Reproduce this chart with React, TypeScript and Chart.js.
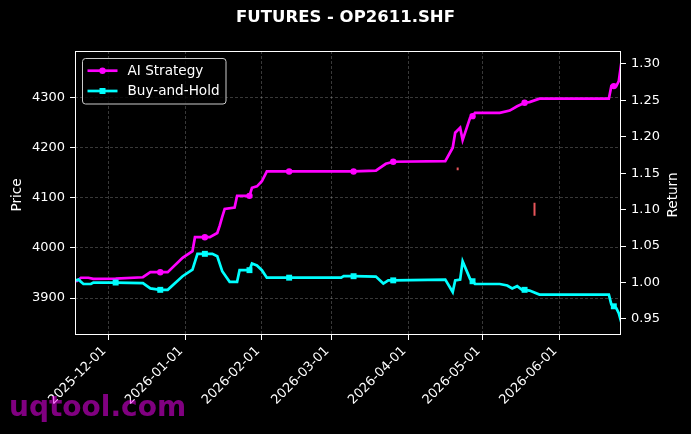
import React, { useEffect, useRef } from "react";
import { Chart, registerables } from "chart.js";

Chart.register(...registerables);

const TITLE = "FUTURES - OP2611.SHF";
const FONT = "'DejaVu Sans', sans-serif";

const monthTicks = ["2025-12-01", "2026-01-01", "2026-02-01", "2026-03-01", "2026-04-01", "2026-05-01", "2026-06-01"];
const priceTicks = [3900, 4000, 4100, 4200, 4300];
const returnTicks = [0.95, 1.0, 1.05, 1.1, 1.15, 1.2, 1.25, 1.3];

const aiDates = [
  "2025-11-18", "2025-11-20", "2025-11-23", "2025-11-25", "2025-12-04", "2025-12-15", "2025-12-18", "2025-12-22",
  "2025-12-25", "2025-12-31", "2026-01-04", "2026-01-05", "2026-01-09", "2026-01-11", "2026-01-14", "2026-01-15",
  "2026-01-16", "2026-01-17", "2026-01-21", "2026-01-22", "2026-01-27", "2026-01-28", "2026-01-30", "2026-02-01",
  "2026-02-03", "2026-02-12", "2026-03-10", "2026-03-19", "2026-03-23", "2026-03-26", "2026-04-16", "2026-04-19",
  "2026-04-20", "2026-04-22", "2026-04-23", "2026-04-26", "2026-04-27", "2026-04-28", "2026-05-08", "2026-05-12",
  "2026-05-15", "2026-05-18", "2026-05-20", "2026-05-24", "2026-06-21", "2026-06-22", "2026-06-23", "2026-06-24",
  "2026-06-25", "2026-06-26",
];
const aiValues = [
  1.001, 1.0066, 1.0066, 1.005, 1.0055, 1.0073, 1.0142, 1.0142,
  1.0142, 1.0339, 1.043, 1.0622, 1.0622, 1.0622, 1.068, 1.078,
  1.09, 1.101, 1.103, 1.119, 1.119, 1.13, 1.132, 1.139,
  1.1525, 1.1525, 1.1525, 1.1535, 1.163, 1.1658, 1.1666, 1.185,
  1.2056, 1.2125, 1.1955, 1.226, 1.2284, 1.233, 1.233, 1.236,
  1.242, 1.2468, 1.2477, 1.2523, 1.2523, 1.2696, 1.2696, 1.2696,
  1.2765, 1.3008,
];
const aiMarkerDates = ["2025-12-22", "2026-01-09", "2026-01-27", "2026-02-12", "2026-03-10", "2026-03-26", "2026-04-27", "2026-05-18", "2026-06-23"];

const bhDates = [
  "2025-11-18", "2025-11-19", "2025-11-21", "2025-11-24", "2025-11-25", "2025-12-04", "2025-12-15", "2025-12-18",
  "2025-12-22", "2025-12-25", "2025-12-31", "2026-01-04", "2026-01-06", "2026-01-09", "2026-01-12", "2026-01-14",
  "2026-01-16", "2026-01-19", "2026-01-22", "2026-01-23", "2026-01-27", "2026-01-28", "2026-01-30", "2026-02-01",
  "2026-02-03", "2026-02-12", "2026-03-05", "2026-03-06", "2026-03-10", "2026-03-19", "2026-03-22", "2026-03-24",
  "2026-03-26", "2026-04-16", "2026-04-19", "2026-04-20", "2026-04-22", "2026-04-23", "2026-04-26", "2026-04-27",
  "2026-04-28", "2026-05-08", "2026-05-11", "2026-05-13", "2026-05-15", "2026-05-17", "2026-05-18", "2026-05-20",
  "2026-05-24", "2026-06-21", "2026-06-22", "2026-06-23", "2026-06-24", "2026-06-25", "2026-06-26",
];
const bhValues = [
  1.003, 1.004, 0.998, 0.998, 1.0, 1.0, 0.9993, 0.992,
  0.99, 0.99, 1.0087, 1.0178, 1.0394, 1.0394, 1.0394, 1.036,
  1.0156, 1.001, 1.001, 1.017, 1.017, 1.026, 1.0235, 1.017,
  1.0067, 1.0067, 1.0067, 1.0087, 1.0087, 1.0082, 0.9986, 1.003,
  1.003, 1.004, 0.987, 1.003, 1.004, 1.029, 1.005, 1.0018,
  0.998, 0.998, 0.9959, 0.9918, 0.995, 0.99, 0.99, 0.989,
  0.9835, 0.9835, 0.97, 0.9674, 0.965, 0.958, 0.9455,
];
const bhMarkerDates = ["2025-12-04", "2025-12-22", "2026-01-09", "2026-01-27", "2026-02-12", "2026-03-10", "2026-03-26", "2026-04-27", "2026-05-18", "2026-06-23"];

const signalDates = ["2026-04-21", "2026-05-22"];
const signalLow = [4154.7, 4063.7];
const signalHigh = [4160.1, 4089.6];

const EPOCH = Date.UTC(2025, 11, 1);
const toDay = (s: string) => (Date.parse(s) - EPOCH) / 86400000;
const fromDay = (d: number) => new Date(EPOCH + Math.round(d) * 86400000).toISOString().slice(0, 10);

const decorPlugin = {
  id: "decor",
  afterDatasetsDraw(chart: any) {
    const { ctx, chartArea: a } = chart;
    ctx.save();
    ctx.strokeStyle = "#ffffff";
    ctx.lineWidth = 1;
    ctx.strokeRect(a.left + 0.5, a.top + 0.5, a.right - a.left - 1, a.bottom - a.top - 1);
    ctx.restore();
  },
  afterDraw(chart: any) {
    const { ctx, chartArea: a } = chart;
    const midY = (a.top + a.bottom) / 2 + 2;
    ctx.save();
    ctx.fillStyle = "#ffffff";
    ctx.font = `13.6px ${FONT}`;
    ctx.textAlign = "center";
    ctx.textBaseline = "middle";
    ctx.save();
    ctx.translate(17, midY);
    ctx.rotate(-Math.PI / 2);
    ctx.fillText("Price", 0, 0);
    ctx.restore();
    ctx.save();
    ctx.translate(673, midY);
    ctx.rotate(-Math.PI / 2);
    ctx.fillText("Return", 0, 0);
    ctx.restore();

    // legend
    const bx = 82.5, by = 58.5, bw = 143.5, bh = 45.5, r = 3;
    ctx.beginPath();
    ctx.moveTo(bx + r, by);
    ctx.lineTo(bx + bw - r, by);
    ctx.arcTo(bx + bw, by, bx + bw, by + r, r);
    ctx.lineTo(bx + bw, by + bh - r);
    ctx.arcTo(bx + bw, by + bh, bx + bw - r, by + bh, r);
    ctx.lineTo(bx + r, by + bh);
    ctx.arcTo(bx, by + bh, bx, by + bh - r, r);
    ctx.lineTo(bx, by + r);
    ctx.arcTo(bx, by, bx + r, by, r);
    ctx.closePath();
    ctx.fillStyle = "rgba(0,0,0,0.8)";
    ctx.fill();
    ctx.strokeStyle = "#cccccc";
    ctx.lineWidth = 1;
    ctx.stroke();

    const rows = [
      { ds: chart.data.datasets[0], y: 70.7 },
      { ds: chart.data.datasets[1], y: 91 },
    ];
    rows.forEach(({ ds, y }) => {
      ctx.strokeStyle = ds.borderColor;
      ctx.fillStyle = ds.borderColor;
      ctx.lineWidth = 2.7;
      ctx.beginPath();
      ctx.moveTo(87.5, y);
      ctx.lineTo(117.5, y);
      ctx.stroke();
      if (ds.pointStyle === "rect") {
        ctx.fillRect(102.5 - 3, y - 3, 6, 6);
      } else {
        ctx.beginPath();
        ctx.arc(102.5, y, 3.2, 0, Math.PI * 2);
        ctx.fill();
      }
      ctx.fillStyle = "#ffffff";
      ctx.font = `13.6px ${FONT}`;
      ctx.textAlign = "left";
      ctx.textBaseline = "middle";
      ctx.fillText(ds.label, 127.5, y + 0.5);
    });
    ctx.restore();
  },
};

export default function App() {
  const ref = useRef<HTMLCanvasElement | null>(null);

  useEffect(() => {
    document.body.style.margin = "0";
    document.body.style.background = "#000";
    const canvas = ref.current;
    if (!canvas) return;

    const signalData: any[] = [];
    signalDates.forEach((d, i) => {
      signalData.push({ x: toDay(d), y: signalLow[i] });
      signalData.push({ x: toDay(d), y: signalHigh[i] });
      signalData.push({ x: toDay(d), y: null });
    });

    const gridCommon = {
      color: "rgba(255,255,255,0.28)",
      lineWidth: 0.8,
      tickColor: "#ffffff",
      tickLength: 5,
      tickWidth: 1,
    };
    const tickFont = { family: FONT, size: 13 };

    const chart = new Chart(canvas, {
      type: "line",
      data: {
        datasets: [
          {
            label: "AI Strategy",
            data: aiDates.map((d, i) => ({ x: toDay(d), y: aiValues[i] })),
            yAxisID: "y1",
            borderColor: "#ff00ff",
            backgroundColor: "#ff00ff",
            borderWidth: 2.7,
            pointStyle: "circle",
            pointRadius: (c: any) => (aiMarkerDates.includes(aiDates[c.dataIndex]) ? 3.2 : 0),
            pointBorderWidth: 0,
            pointHoverRadius: 0,
            tension: 0,
            order: 1,
          },
          {
            label: "Buy-and-Hold",
            data: bhDates.map((d, i) => ({ x: toDay(d), y: bhValues[i] })),
            yAxisID: "y1",
            borderColor: "#00ffff",
            backgroundColor: "#00ffff",
            borderWidth: 2.7,
            pointStyle: "rect",
            pointRadius: (c: any) => (bhMarkerDates.includes(bhDates[c.dataIndex]) ? 4.2 : 0),
            pointBorderWidth: 0,
            pointHoverRadius: 0,
            tension: 0,
            order: 0,
          },
          {
            label: "signals",
            data: signalData,
            yAxisID: "y",
            borderColor: "#e8555a",
            borderWidth: 2,
            pointRadius: 0,
            spanGaps: false,
            order: 2,
          },
        ],
      },
      options: {
        responsive: false,
        devicePixelRatio: 1,
        animation: false,
        events: [],
        layout: { padding: 0 },
        plugins: {
          legend: { display: false },
          tooltip: { enabled: false },
          title: {
            display: true,
            text: TITLE,
            color: "#ffffff",
            font: { family: FONT, size: 16.5, weight: "bold" },
            padding: { top: 7.6, bottom: 23.6 },
          },
        },
        scales: {
          x: {
            type: "linear",
            position: "bottom",
            min: -13.4,
            max: 206.9,
            afterBuildTicks: (s: any) => {
              s.ticks = monthTicks.map((m) => ({ value: toDay(m) }));
            },
            afterFit: (s: any) => {
              s.height = 99;
              s.paddingLeft = 0;
              s.paddingRight = 0;
            },
            ticks: {
              callback: (v: any) => fromDay(Number(v)),
              color: "#ffffff",
              font: tickFont,
              minRotation: 45,
              maxRotation: 45,
              autoSkip: false,
              padding: 3.5,
              labelOffset: -4,
            },
            grid: gridCommon,
            border: { display: false, dash: [3, 2] },
          },
          y: {
            type: "linear",
            position: "left",
            min: 3826.4,
            max: 4392,
            afterBuildTicks: (s: any) => {
              s.ticks = priceTicks.map((v) => ({ value: v }));
            },
            afterFit: (s: any) => {
              s.width = 75;
              s.paddingTop = 0;
              s.paddingBottom = 0;
            },
            ticks: {
              callback: (v: any) => String(v),
              color: "#ffffff",
              font: tickFont,
              padding: 5,
            },
            grid: gridCommon,
            border: { display: false, dash: [3, 2] },
          },
          y1: {
            type: "linear",
            position: "right",
            min: 0.928,
            max: 1.3178,
            afterBuildTicks: (s: any) => {
              s.ticks = returnTicks.map((v) => ({ value: v }));
            },
            afterFit: (s: any) => {
              s.width = 70;
              s.paddingTop = 0;
              s.paddingBottom = 0;
            },
            ticks: {
              callback: (v: any) => Number(v).toFixed(2),
              color: "#ffffff",
              font: tickFont,
              padding: 5,
            },
            grid: { ...gridCommon, drawOnChartArea: false },
            border: { display: false },
          },
        },
      },
      plugins: [decorPlugin],
    } as any);

    return () => chart.destroy();
  }, []);

  return (
    <div style={{ position: "relative", width: 691, height: 434, background: "#000", overflow: "hidden" }}>
      <canvas ref={ref} width={691} height={434} style={{ display: "block", width: 691, height: 434 }} />
      <div
        style={{
          position: "absolute",
          left: 9,
          top: 393,
          fontFamily: FONT,
          fontWeight: "bold",
          fontSize: 28,
          lineHeight: "28px",
          color: "rgba(255,0,255,0.5)",
          whiteSpace: "nowrap",
          pointerEvents: "none",
        }}
      >
        uqtool.com
      </div>
    </div>
  );
}
